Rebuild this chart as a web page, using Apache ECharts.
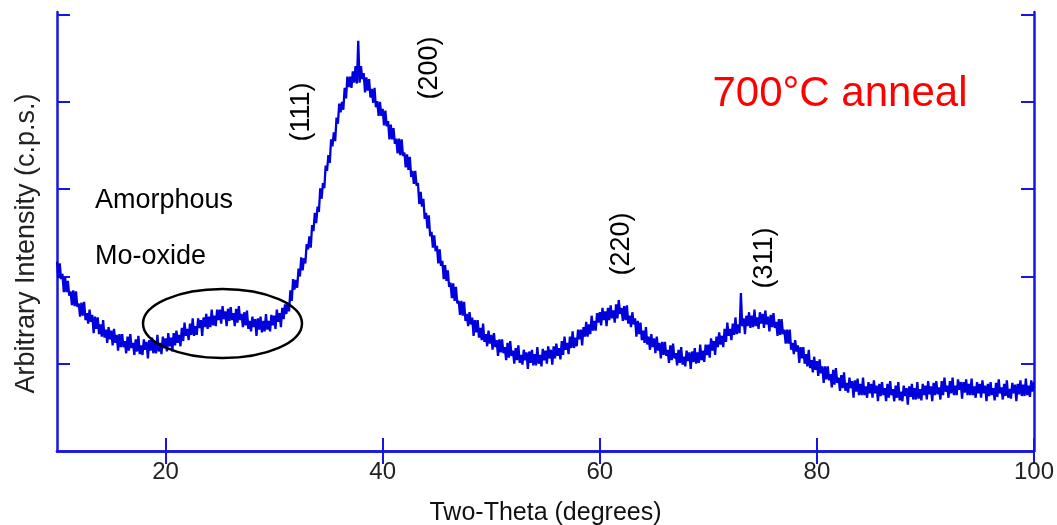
<!DOCTYPE html>
<html><head><meta charset="utf-8">
<script src="https://cdn.jsdelivr.net/npm/echarts@6/dist/echarts.min.js"></script>
<style>html,body{margin:0;padding:0;background:#fff}#c{width:1057px;height:525px}</style>
</head><body><div id="c"></div>
<script>
// Two-theta sampling of the scan (degrees)
const twoThetaStart = 10;
const twoThetaStep = 0.125;
// Intensity (arbitrary c.p.s. units), one row per degree (10 ... 99, then 100)
const intensity = [
217,198,215,197,203,182,199,182,
195,178,183,167,184,166,183,165,
169,154,170,155,171,150,158,146,
162,148,156,135,154,140,153,134,
145,131,150,130,139,124,142,128,
138,121,140,124,133,115,134,119,
134,119,126,112,131,115,134,118,
124,110,128,114,132,111,121,110,
128,116,125,106,127,115,130,112,
125,112,133,114,124,111,131,118,
129,114,135,120,130,114,135,121,
138,124,133,120,141,126,147,132,
140,127,146,133,152,132,143,133,
152,141,150,132,153,142,157,140,
154,142,162,144,155,143,162,150,
162,146,166,151,160,143,163,149,
165,150,158,143,163,147,166,150,
157,142,159,144,161,140,149,137,
154,142,151,132,152,139,154,136,
149,137,157,139,149,137,156,144,
155,140,162,148,158,142,164,151,
168,157,170,160,184,172,197,185,
196,187,209,200,222,207,221,215,
237,231,246,233,259,252,273,261,
280,274,301,289,307,301,327,321,
339,330,357,349,365,355,382,375,
398,388,400,391,416,404,429,417,
429,416,435,422,441,421,470,422,
441,426,433,411,428,413,426,405,
415,399,416,394,401,384,400,384,
392,373,390,372,378,357,374,357,
370,352,358,341,358,339,357,338,
342,325,340,322,337,314,321,306,
321,304,307,283,297,280,289,266,
273,255,270,246,251,233,247,229,
235,215,231,212,218,197,213,195,
207,188,193,175,192,172,188,169,
172,156,172,155,171,149,157,143,
159,145,153,132,150,136,150,130,
141,127,146,125,134,120,138,123,
133,116,135,119,127,109,128,113,
128,112,119,104,124,107,126,109,
115,100,118,104,121,101,110,99,
116,104,113,94,114,101,116,98,
111,98,119,100,110,97,117,104,
115,100,120,106,116,99,120,106,
123,109,118,105,126,110,131,116,
124,111,131,118,137,118,130,120,
139,128,139,121,142,131,148,131,
145,134,155,138,149,138,158,147,
159,144,164,150,160,143,164,150,
167,152,161,147,168,152,173,157,
164,149,166,150,167,146,155,142,
159,145,152,131,149,134,147,127,
138,124,142,122,131,116,134,119,
129,112,131,115,124,106,125,110,
125,109,116,101,121,104,123,106,
112,98,116,101,119,99,108,97,
115,103,113,94,114,102,118,100,
113,101,122,104,115,102,122,110,
122,107,129,115,126,110,131,119,
136,122,132,119,140,125,147,132,
140,127,146,133,153,134,145,135,
181,143,152,134,155,143,159,141,
155,142,162,143,153,140,159,146,
157,141,161,145,154,137,156,142,
158,141,148,132,151,133,151,134,
139,123,139,123,139,116,124,111,
127,114,121,101,119,106,119,100,
111,97,116,95,104,90,108,93,
103,86,105,89,97,78,97,82,
97,81,88,73,93,76,95,78,
84,69,87,72,90,69,78,67,
84,72,80,61,81,68,83,64,
77,64,84,64,74,61,79,66,
77,61,81,66,75,57,77,63,
79,64,72,57,77,61,80,64,
71,57,75,61,79,58,68,57,
75,63,72,53,74,62,77,59,
72,59,79,60,71,58,77,64,
75,59,80,65,74,57,78,64,
80,65,73,59,80,64,84,68,
75,61,80,66,84,64,75,64,
82,70,79,60,79,67,82,64,
77,64,83,64,74,61,79,66,
77,61,81,66,75,57,77,63,
79,64,72,58,78,62,82,66,
73,59,77,63,81,61,71,60,
78,66,76,57,77,65,81,63,
76,63,83,64,75,62,81,68,
79
];
const xTickValues = [20, 40, 60, 80, 100];
const yTickValues = [100, 200, 300, 400, 500];
const xAxisTitle = 'Two-Theta (degrees)';
const yAxisTitle = 'Arbitrary Intensity (c.p.s.)';
const peakLabels = ['(111)', '(200)', '(220)', '(311)'];
const sampleLabel = '700°C anneal';
const amorphLabels = ['Amorphous', 'Mo-oxide'];

const seriesData = intensity.map((v, i) => [twoThetaStart + i * twoThetaStep, v]);

const FONT = '"Liberation Sans", Arial, sans-serif';
const FRAME = '#1616e2';
const LINE = '#0000dc';

const chart = echarts.init(document.getElementById('c'), null, {renderer: 'canvas'});

const frameAxisLine = {show: true, lineStyle: {color: FRAME, width: 2.5}};
const innerTick = (vals) => ({show: true, inside: true, length: 13, customValues: vals, lineStyle: {color: FRAME, width: 2}});

const peakPos = [[302, 112], [430, 68], [622, 244], [765, 258]];

chart.setOption({
  animation: false,
  backgroundColor: '#fff',
  grid: {left: 57, right: 23, top: 12, bottom: 74, containLabel: false, outerBoundsMode: 'none'},
  xAxis: [{
    type: 'value', position: 'bottom', min: 10, max: 100,
    axisLine: frameAxisLine, axisTick: innerTick(xTickValues),
    axisLabel: {show: true, customValues: xTickValues, color: '#222', fontSize: 24, margin: 9, fontFamily: FONT},
    splitLine: {show: false},
    name: xAxisTitle, nameLocation: 'middle', nameGap: 50,
    nameTextStyle: {color: '#111', fontSize: 25, fontFamily: FONT}
  }, {
    type: 'value', position: 'top', min: 10, max: 100,
    axisLine: frameAxisLine, axisTick: innerTick(xTickValues),
    axisLabel: {show: false}, splitLine: {show: false}
  }],
  yAxis: [{
    type: 'value', position: 'left', min: 0, max: 503,
    axisLine: frameAxisLine, axisTick: innerTick(yTickValues),
    axisLabel: {show: false}, splitLine: {show: false},
    name: yAxisTitle, nameLocation: 'middle', nameGap: 17,
    nameTextStyle: {color: '#222', fontSize: 27, fontFamily: FONT, padding: [0, 24, 0, 0]}
  }, {
    type: 'value', position: 'right', min: 0, max: 503,
    axisLine: frameAxisLine, axisTick: innerTick(yTickValues),
    axisLabel: {show: false}, splitLine: {show: false}
  }],
  series: [{
    type: 'line', xAxisIndex: 0, yAxisIndex: 0,
    data: seriesData, showSymbol: false, symbol: 'none',
    lineStyle: {color: LINE, width: 2.3}, z: 3
  }],
  graphic: [
    {type: 'text', x: 840, y: 94, z: 10, style: {text: sampleLabel, fill: '#ff0000', font: '42px ' + FONT, textAlign: 'center', textVerticalAlign: 'middle'}},
    {type: 'text', x: 95, y: 201, z: 10, style: {text: amorphLabels[0], fill: '#000', font: '27px ' + FONT, textAlign: 'left', textVerticalAlign: 'middle'}},
    {type: 'text', x: 95, y: 257, z: 10, style: {text: amorphLabels[1], fill: '#000', font: '27px ' + FONT, textAlign: 'left', textVerticalAlign: 'middle'}},
    ...peakLabels.map((t, i) => ({type: 'text', x: peakPos[i][0], y: peakPos[i][1], rotation: Math.PI / 2, z: 10,
      style: {text: t, fill: '#000', font: '27px ' + FONT, textAlign: 'center', textVerticalAlign: 'middle'}})),
    {type: 'ellipse', z: 10, shape: {cx: 222.5, cy: 323.5, rx: 79.5, ry: 34.5}, style: {fill: 'none', stroke: '#000', lineWidth: 2.5}}
  ]
});
</script></body></html>
